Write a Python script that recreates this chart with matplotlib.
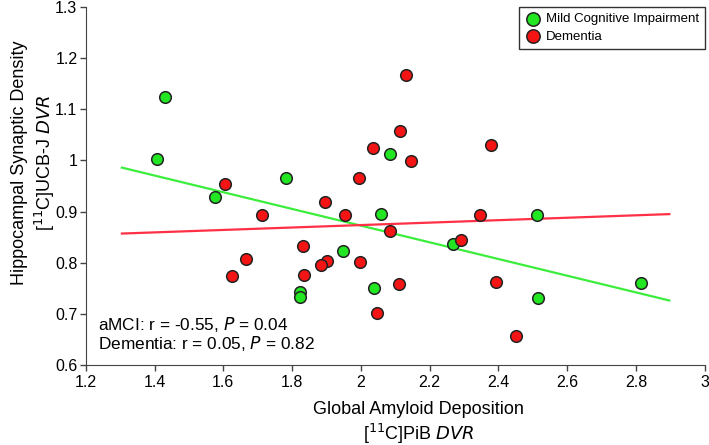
import numpy as np
import matplotlib.pyplot as plt

plt.rcParams['font.family'] = ['Liberation Sans', 'DejaVu Sans']

# Mild cognitive impairment
mci_x = [1.431, 1.407, 1.577, 1.782, 2.084, 2.058, 1.947, 1.822, 1.824,
         2.038, 2.512, 2.269, 2.514, 2.814]
mci_y = [1.124, 1.002, 0.928, 0.966, 1.013, 0.895, 0.822, 0.743, 0.733,
         0.750, 0.893, 0.837, 0.731, 0.761]

# Dementia
dem_x = [1.605, 1.712, 1.666, 1.625, 2.130, 2.114, 2.035, 2.147, 1.995,
         1.897, 1.953, 2.084, 1.833, 1.902, 1.884, 1.996, 1.835, 2.110,
         2.048, 2.378, 2.347, 2.292, 2.392, 2.451]
dem_y = [0.954, 0.893, 0.808, 0.773, 1.167, 1.057, 1.025, 0.999, 0.965,
         0.918, 0.893, 0.861, 0.832, 0.804, 0.796, 0.801, 0.775, 0.758,
         0.702, 1.030, 0.893, 0.845, 0.763, 0.657]

# regression lines (end points)
fit_x = [1.305, 2.897]
mci_fit = [0.986, 0.726]
dem_fit = [0.857, 0.895]

green = '#22e622'
red = '#f51414'

fig = plt.figure(figsize=(7.09, 4.45), dpi=100)
ax = fig.add_axes([0.121, 0.18, 0.873, 0.804])

ax.plot(fit_x, mci_fit, color='#3cee3c', lw=1.6, zorder=2)
ax.plot(fit_x, dem_fit, color='#ff3045', lw=1.6, zorder=2)
ax.scatter(mci_x, mci_y, s=70, c=green, edgecolors='#222222', linewidths=1.1,
           label='Mild Cognitive Impairment', zorder=3)
ax.scatter(dem_x, dem_y, s=70, c=red, edgecolors='#222222', linewidths=1.1,
           label='Dementia', zorder=3)

ax.set_xlim(1.2, 3.0)
ax.set_ylim(0.6, 1.3)
ax.set_xticks(np.arange(1.2, 3.01, 0.2))
ax.set_xticklabels(['1.2', '1.4', '1.6', '1.8', '2', '2.2', '2.4', '2.6', '2.8', '3'])
ax.set_yticks(np.arange(0.6, 1.31, 0.1))
ax.set_yticklabels(['0.6', '0.7', '0.8', '0.9', '1', '1.1', '1.2', '1.3'])
ax.tick_params(labelsize=11.5, direction='out', length=4, width=1, color='#444444')
ax.tick_params(axis='y', pad=2)
for s in ['top', 'right']:
    ax.spines[s].set_visible(False)
for s in ['left', 'bottom']:
    ax.spines[s].set_color('#444444')

ax.set_xlabel('Global Amyloid Deposition\n[$^{11}$C]PiB $\\it{DVR}$', fontsize=13,
              linespacing=1.25)
ax.xaxis.set_label_coords(0.538, -0.1)
ax.set_ylabel('Hippocampal Synaptic Density\n[$^{11}$C]UCB-J $\\it{DVR}$', fontsize=13,
              linespacing=1.25)
ax.yaxis.set_label_coords(-0.047, 0.565)

ax.text(0.02, 0.112, 'aMCI: r = -0.55, $\\it{P}$ = 0.04', transform=ax.transAxes,
        fontsize=12.4, va='center')
ax.text(0.02, 0.059, 'Dementia: r = 0.05, $\\it{P}$ = 0.82', transform=ax.transAxes,
        fontsize=12.4, va='center')

leg = ax.legend(loc='upper right', bbox_to_anchor=(1.0, 1.0), fontsize=9.5,
                fancybox=False, edgecolor='#333333', framealpha=1,
                handletextpad=0.3, borderpad=0.45, labelspacing=0.4,
                handlelength=1.3, borderaxespad=0, markerscale=1.15)
leg.get_frame().set_linewidth(1.0)

fig.savefig('out.png', dpi=100)
